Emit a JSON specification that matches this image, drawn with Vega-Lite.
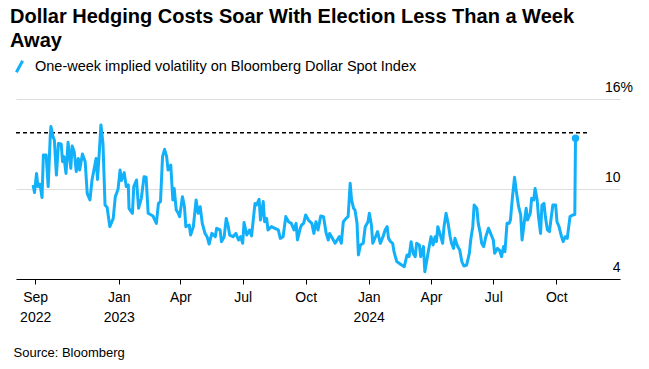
{
  "$schema": "https://vega.github.io/schema/vega-lite/v6.json",
  "width": 604,
  "height": 180,
  "autosize": {"type": "none"},
  "padding": {"left": 16, "top": 99, "right": 29, "bottom": 90},
  "background": "white",
  "config": {"font": "Liberation Sans", "view": {"stroke": null}},
  "title": {
    "text": ["Dollar Hedging Costs Soar With Election Less Than a Week", "Away"],
    "anchor": "start",
    "fontSize": 20,
    "fontWeight": "bold",
    "color": "#000000",
    "lineHeight": 24,
    "dx": -2,
    "offset": 8
  },
  "datasets": {
    "ref": [{"date": "2022-08-04", "date2": "2024-11-19", "value": 13.75}],
    "vol": [
      {"date":"2022-08-29","value":10.27},{"date":"2022-08-31","value":9.76},{"date":"2022-09-03","value":11.04},{"date":"2022-09-05","value":10.16},{"date":"2022-09-08","value":10.33},{"date":"2022-09-11","value":9.44},{"date":"2022-09-13","value":12.27},{"date":"2022-09-17","value":12.27},{"date":"2022-09-20","value":10.16},{"date":"2022-09-23","value":13.49},{"date":"2022-09-24","value":14.16},{"date":"2022-09-27","value":13.49},{"date":"2022-09-29","value":13.27},{"date":"2022-10-02","value":10.93},{"date":"2022-10-05","value":13.04},{"date":"2022-10-09","value":13.0},{"date":"2022-10-11","value":11.82},{"date":"2022-10-13","value":12.16},{"date":"2022-10-16","value":11.04},{"date":"2022-10-19","value":13.11},{"date":"2022-10-23","value":11.38},{"date":"2022-10-25","value":12.87},{"date":"2022-10-28","value":12.49},{"date":"2022-10-31","value":11.16},{"date":"2022-11-03","value":12.04},{"date":"2022-11-05","value":11.27},{"date":"2022-11-09","value":12.33},{"date":"2022-11-13","value":11.82},{"date":"2022-11-16","value":9.71},{"date":"2022-11-20","value":9.27},{"date":"2022-11-23","value":10.6},{"date":"2022-11-29","value":12.04},{"date":"2022-12-01","value":10.64},{"date":"2022-12-04","value":12.71},{"date":"2022-12-06","value":14.27},{"date":"2022-12-09","value":13.04},{"date":"2022-12-12","value":8.93},{"date":"2022-12-15","value":8.78},{"date":"2022-12-19","value":7.49},{"date":"2022-12-24","value":8.04},{"date":"2022-12-27","value":9.49},{"date":"2022-12-31","value":9.98},
      {"date":"2023-01-03","value":11.27},{"date":"2023-01-05","value":10.56},{"date":"2023-01-09","value":11.09},{"date":"2023-01-12","value":10.16},{"date":"2023-01-15","value":10.27},{"date":"2023-01-16","value":8.71},{"date":"2023-01-21","value":8.38},{"date":"2023-01-23","value":10.16},{"date":"2023-01-27","value":10.6},{"date":"2023-01-30","value":8.71},{"date":"2023-02-03","value":9.38},{"date":"2023-02-07","value":10.82},{"date":"2023-02-10","value":10.78},{"date":"2023-02-13","value":8.38},{"date":"2023-02-20","value":8.2},{"date":"2023-02-25","value":7.71},{"date":"2023-02-28","value":9.04},{"date":"2023-03-03","value":9.16},{"date":"2023-03-06","value":12.16},{"date":"2023-03-09","value":12.64},{"date":"2023-03-12","value":12.16},{"date":"2023-03-14","value":11.27},{"date":"2023-03-18","value":11.6},{"date":"2023-03-21","value":9.27},{"date":"2023-03-23","value":10.04},{"date":"2023-03-26","value":8.6},{"date":"2023-03-29","value":8.38},{"date":"2023-03-31","value":8.16},{"date":"2023-04-04","value":9.49},{"date":"2023-04-07","value":8.82},{"date":"2023-04-09","value":7.49},{"date":"2023-04-14","value":7.6},{"date":"2023-04-16","value":6.93},{"date":"2023-04-20","value":7.49},{"date":"2023-04-24","value":9.27},{"date":"2023-04-27","value":8.38},{"date":"2023-04-30","value":8.82},{"date":"2023-05-03","value":7.71},{"date":"2023-05-07","value":7.04},{"date":"2023-05-10","value":6.82},{"date":"2023-05-13","value":6.33},{"date":"2023-05-17","value":7.04},{"date":"2023-05-22","value":6.82},{"date":"2023-05-24","value":7.38},{"date":"2023-05-29","value":7.27},{"date":"2023-05-31","value":6.49},{"date":"2023-06-04","value":6.82},{"date":"2023-06-07","value":8.04},{"date":"2023-06-10","value":7.49},{"date":"2023-06-12","value":6.93},{"date":"2023-06-17","value":6.82},{"date":"2023-06-21","value":7.04},{"date":"2023-06-25","value":6.6},{"date":"2023-06-28","value":6.82},{"date":"2023-07-01","value":6.38},{"date":"2023-07-03","value":7.76},{"date":"2023-07-07","value":6.93},{"date":"2023-07-11","value":7.27},{"date":"2023-07-14","value":6.87},{"date":"2023-07-19","value":9.04},{"date":"2023-07-21","value":8.93},{"date":"2023-07-25","value":9.31},{"date":"2023-07-27","value":7.93},{"date":"2023-07-31","value":9.16},{"date":"2023-08-02","value":7.82},{"date":"2023-08-05","value":8.04},{"date":"2023-08-07","value":7.27},{"date":"2023-08-12","value":7.49},{"date":"2023-08-17","value":7.38},{"date":"2023-08-22","value":7.27},{"date":"2023-08-25","value":6.71},{"date":"2023-08-29","value":6.82},{"date":"2023-09-02","value":8.16},{"date":"2023-09-06","value":7.82},{"date":"2023-09-10","value":7.71},{"date":"2023-09-14","value":7.27},{"date":"2023-09-17","value":7.71},{"date":"2023-09-19","value":6.6},{"date":"2023-09-23","value":7.38},{"date":"2023-09-25","value":7.6},{"date":"2023-09-28","value":7.71},{"date":"2023-10-01","value":8.27},{"date":"2023-10-05","value":7.93},{"date":"2023-10-10","value":7.71},{"date":"2023-10-13","value":7.04},{"date":"2023-10-16","value":7.82},{"date":"2023-10-19","value":7.27},{"date":"2023-10-23","value":8.2},{"date":"2023-10-27","value":8.16},{"date":"2023-10-31","value":7.04},{"date":"2023-11-03","value":6.6},{"date":"2023-11-05","value":7.04},{"date":"2023-11-09","value":6.71},{"date":"2023-11-13","value":6.38},{"date":"2023-11-16","value":6.6},{"date":"2023-11-19","value":6.82},{"date":"2023-11-22","value":6.38},{"date":"2023-11-25","value":7.82},{"date":"2023-11-29","value":8.04},{"date":"2023-12-02","value":8.16},{"date":"2023-12-05","value":10.38},{"date":"2023-12-07","value":9.27},{"date":"2023-12-10","value":8.71},{"date":"2023-12-12","value":8.6},{"date":"2023-12-15","value":7.71},{"date":"2023-12-17","value":5.6},{"date":"2023-12-20","value":6.27},{"date":"2023-12-24","value":6.38},{"date":"2023-12-27","value":7.49},{"date":"2023-12-31","value":7.82},
      {"date":"2024-01-02","value":8.38},{"date":"2024-01-05","value":7.6},{"date":"2024-01-07","value":6.38},{"date":"2024-01-11","value":6.82},{"date":"2024-01-14","value":7.16},{"date":"2024-01-18","value":6.38},{"date":"2024-01-22","value":6.82},{"date":"2024-01-25","value":7.27},{"date":"2024-01-28","value":7.49},{"date":"2024-01-30","value":6.71},{"date":"2024-02-02","value":6.49},{"date":"2024-02-05","value":6.38},{"date":"2024-02-07","value":5.82},{"date":"2024-02-11","value":5.16},{"date":"2024-02-16","value":5.0},{"date":"2024-02-22","value":4.82},{"date":"2024-02-26","value":5.6},{"date":"2024-02-29","value":5.49},{"date":"2024-03-03","value":6.49},{"date":"2024-03-06","value":5.71},{"date":"2024-03-09","value":5.49},{"date":"2024-03-11","value":6.38},{"date":"2024-03-15","value":6.27},{"date":"2024-03-17","value":5.49},{"date":"2024-03-21","value":6.16},{"date":"2024-03-23","value":4.49},{"date":"2024-03-26","value":5.27},{"date":"2024-03-28","value":5.82},{"date":"2024-04-01","value":6.82},{"date":"2024-04-04","value":6.27},{"date":"2024-04-07","value":6.82},{"date":"2024-04-09","value":6.49},{"date":"2024-04-11","value":7.49},{"date":"2024-04-14","value":7.04},{"date":"2024-04-18","value":6.38},{"date":"2024-04-20","value":7.49},{"date":"2024-04-23","value":8.38},{"date":"2024-04-26","value":7.71},{"date":"2024-04-29","value":6.82},{"date":"2024-05-01","value":6.38},{"date":"2024-05-04","value":6.04},{"date":"2024-05-06","value":6.71},{"date":"2024-05-10","value":6.16},{"date":"2024-05-13","value":5.93},{"date":"2024-05-16","value":5.16},{"date":"2024-05-19","value":4.87},{"date":"2024-05-23","value":4.93},{"date":"2024-05-27","value":5.71},{"date":"2024-05-29","value":6.6},{"date":"2024-06-01","value":7.49},{"date":"2024-06-03","value":8.93},{"date":"2024-06-07","value":8.71},{"date":"2024-06-09","value":7.71},{"date":"2024-06-12","value":7.04},{"date":"2024-06-14","value":6.38},{"date":"2024-06-17","value":6.16},{"date":"2024-06-20","value":6.82},{"date":"2024-06-24","value":7.38},{"date":"2024-06-26","value":7.16},{"date":"2024-06-29","value":6.82},{"date":"2024-07-01","value":6.6},{"date":"2024-07-03","value":5.71},{"date":"2024-07-07","value":6.04},{"date":"2024-07-10","value":5.93},{"date":"2024-07-13","value":5.49},{"date":"2024-07-16","value":6.16},{"date":"2024-07-18","value":5.82},{"date":"2024-07-21","value":7.71},{"date":"2024-07-24","value":7.71},{"date":"2024-07-26","value":7.93},{"date":"2024-07-29","value":9.49},{"date":"2024-08-01","value":10.78},{"date":"2024-08-04","value":9.71},{"date":"2024-08-07","value":8.82},{"date":"2024-08-10","value":8.27},{"date":"2024-08-12","value":6.6},{"date":"2024-08-15","value":7.71},{"date":"2024-08-18","value":8.71},{"date":"2024-08-20","value":7.93},{"date":"2024-08-24","value":8.38},{"date":"2024-08-26","value":9.38},{"date":"2024-08-29","value":9.27},{"date":"2024-08-31","value":10.04},{"date":"2024-09-03","value":9.27},{"date":"2024-09-05","value":8.16},{"date":"2024-09-08","value":7.04},{"date":"2024-09-10","value":8.93},{"date":"2024-09-13","value":9.04},{"date":"2024-09-15","value":8.16},{"date":"2024-09-18","value":7.27},{"date":"2024-09-21","value":7.16},{"date":"2024-09-24","value":8.27},{"date":"2024-09-26","value":8.93},{"date":"2024-09-30","value":8.93},{"date":"2024-10-02","value":7.82},{"date":"2024-10-05","value":7.49},{"date":"2024-10-08","value":6.93},{"date":"2024-10-11","value":6.49},{"date":"2024-10-14","value":6.82},{"date":"2024-10-17","value":6.71},{"date":"2024-10-21","value":8.16},{"date":"2024-10-25","value":8.27},{"date":"2024-10-28","value":8.3},{"date":"2024-10-29","value":13.38}
    ]
  },
  "encoding": {
    "x": {
      "field": "date",
      "type": "temporal",
      "scale": {"type": "utc", "domain": [{"year": 2022, "month": 8, "date": 4, "utc": true}, {"year": 2025, "month": 1, "date": 2, "utc": true}]},
      "axis": {
        "values": [
          {"year": 2022, "month": 9, "date": 1, "utc": true},
          {"year": 2023, "month": 1, "date": 1, "utc": true},
          {"year": 2023, "month": 4, "date": 1, "utc": true},
          {"year": 2023, "month": 7, "date": 1, "utc": true},
          {"year": 2023, "month": 10, "date": 1, "utc": true},
          {"year": 2024, "month": 1, "date": 1, "utc": true},
          {"year": 2024, "month": 4, "date": 1, "utc": true},
          {"year": 2024, "month": 7, "date": 1, "utc": true},
          {"year": 2024, "month": 10, "date": 1, "utc": true}
        ],
        "labelExpr": "utcmonth(datum.value) == 0 || (utcmonth(datum.value) == 8 && utcyear(datum.value) == 2022) ? [utcFormat(datum.value, '%b'), utcFormat(datum.value, '%Y')] : utcFormat(datum.value, '%b')",
        "grid": false,
        "domainColor": "#000000",
        "domainWidth": 1.2,
        "tickColor": "#000000",
        "tickWidth": 1,
        "tickSize": 5,
        "labelPadding": 6,
        "labelFontSize": 14,
        "labelColor": "#000000",
        "labelLineHeight": 20,
        "labelFlush": false,
        "labelOverlap": false,
        "title": "Source: Bloomberg",
        "titleAnchor": "start",
        "titleAlign": "left",
        "titleFontWeight": "normal",
        "titleFontSize": 13,
        "titleColor": "#000000",
        "titlePadding": 22,
        "titleX": -3
      }
    },
    "y": {
      "field": "value",
      "type": "quantitative",
      "scale": {"domain": [4, 16], "nice": false, "zero": false},
      "axis": {
        "orient": "right",
        "values": [4, 10, 16],
        "grid": true,
        "gridColor": "#dddddd",
        "gridWidth": 1,
        "domain": false,
        "ticks": false,
        "tickSize": 0,
        "labelAlign": "right",
        "labelBaseline": "alphabetic",
        "labelOffset": -7.5,
        "labelPadding": {"condition": {"test": "datum.value == 16", "value": 12.5}, "value": 0},
        "labelExpr": "datum.value == 16 ? '16%' : datum.label",
        "labelFontSize": 14,
        "labelColor": "#000000",
        "labelFlush": false,
        "title": null
      }
    }
  },
  "layer": [
    {
      "data": {"name": "ref"},
      "mark": {"type": "rule", "strokeDash": [4, 3], "color": "#000000", "strokeWidth": 1.3},
      "encoding": {"x2": {"field": "date2"}}
    },
    {
      "data": {"name": "vol"},
      "mark": {"type": "line", "strokeWidth": 3, "strokeJoin": "round"},
      "encoding": {
        "color": {
          "datum": "One-week implied volatility on Bloomberg Dollar Spot Index",
          "scale": {"range": ["#13b0fa"]},
          "legend": {
            "orient": "none",
            "legendX": -4,
            "legendY": -40,
            "title": null,
            "symbolType": "M-0.55,1L0.55,-1",
            "symbolSize": 130,
            "symbolStrokeWidth": 3,
            "labelFontSize": 14.5,
            "labelColor": "#000000",
            "labelLimit": 0,
            "labelOffset": 8
          }
        }
      }
    },
    {
      "data": {"name": "vol"},
      "transform": [{"filter": "+toDate(datum.date) == +toDate('2024-10-29')"}],
      "mark": {"type": "point", "filled": true, "size": 55, "color": "#13b0fa", "opacity": 1}
    }
  ]
}
